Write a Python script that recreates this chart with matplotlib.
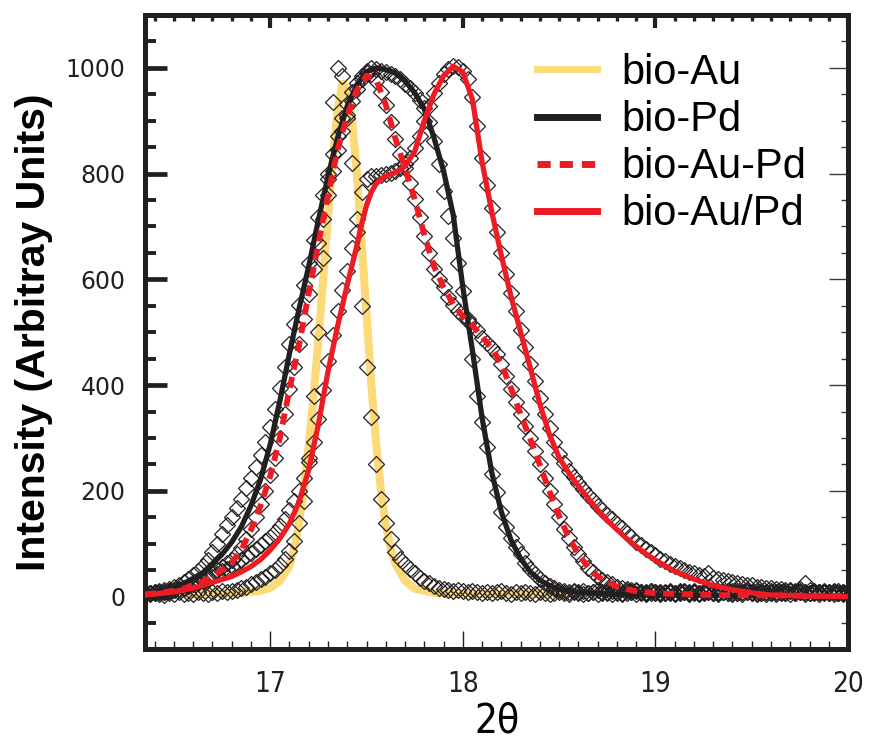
import numpy as np
import matplotlib
matplotlib.use("Agg")
import matplotlib.pyplot as plt
from matplotlib.ticker import MultipleLocator

INK = "#231F20"
GOLD = "#FDD978"
RED = "#ED1C24"

# measured diffraction scan: 16.35 .. 20.00 deg in 0.025 deg steps
two_theta = np.linspace(16.35, 20.0, 147)

au_counts = np.array([
    6, 4, 8, 5, 3, 7, 5, 9, 4, 6,
    5, 8, 6, 4, 9, 7, 10, 8, 11, 13,
    16, 19, 24, 28, 33, 38, 45, 51, 60, 72,
    86, 105, 140, 180, 262, 380, 500, 640, 790, 935,
    1000, 985, 905, 820, 690, 550, 435, 340, 250, 185,
    140, 108, 85, 72, 62, 52, 44, 36, 30, 25,
    20, 17, 14, 12, 11, 13, 10, 8, 11, 9,
    7, 9, 6, 8, 10, 7, 5, 8, 6, 9,
    7, 5, 8, 6, 4, 7, 9, 6, 5, 8,
    6, 4, 7, 9, 5, 6, 8, 5, 7, 4,
    6, 8, 5, 7, 4, 6, 9, 5, 7, 6,
    5, 7, 8, 4, 6, 5, 7, 9, 6, 5,
    8, 6, 4, 7, 5, 8, 6, 5, 7, 4,
    6, 5, 8, 7, 4, 6, 9, 5, 6, 7,
    5, 8, 6, 4, 7, 5, 6])

pd_counts = np.array([
    6, 7, 9, 10, 12, 15, 19, 22, 27, 33,
    40, 48, 58, 70, 85, 100, 118, 135, 150, 167,
    185, 205, 225, 246, 268, 292, 320, 355, 395, 435,
    478, 515, 552, 590, 630, 675, 718, 760, 800, 838,
    872, 905, 932, 955, 972, 985, 995, 1000, 998, 995,
    993, 988, 985, 978, 970, 962, 952, 940, 925, 897,
    862, 818, 768, 720, 678, 630, 578, 525, 450, 380,
    330, 282, 232, 198, 160, 132, 110, 94, 80, 64,
    52, 42, 33, 26, 20, 16, 13, 11, 9, 10,
    8, 11, 7, 9, 12, 8, 6, 10, 9, 7,
    10, 8, 12, 9, 7, 11, 8, 6, 9, 10,
    7, 9, 11, 8, 10, 6, 9, 12, 8, 7,
    9, 11, 7, 10, 8, 12, 9, 7, 10, 8,
    11, 8, 9, 7, 10, 9, 11, 8, 6, 9,
    8, 10, 7, 9, 11, 8, 10])

mix_counts = np.array([
    5, 6, 7, 8, 9, 11, 13, 15, 17, 20,
    23, 27, 32, 37, 43, 50, 56, 63, 70, 80,
    92, 108, 128, 150, 175, 200, 230, 262, 300, 345,
    392, 435, 478, 525, 572, 620, 668, 715, 760, 805,
    845, 880, 910, 938, 960, 978, 990, 988, 975, 955,
    930, 898, 866, 838, 810, 782, 752, 718, 682, 650,
    620, 600, 585, 567, 552, 540, 530, 522, 513, 505,
    490, 480, 470, 458, 440, 418, 393, 368, 345, 322,
    300, 275, 250, 225, 200, 175, 150, 128, 110, 94,
    80, 67, 55, 46, 38, 32, 27, 23, 19, 16,
    14, 12, 10, 9, 8, 10, 7, 9, 6, 8,
    7, 10, 8, 6, 9, 7, 11, 8, 6, 9,
    8, 6, 10, 7, 9, 8, 6, 10, 7, 9,
    7, 9, 6, 8, 10, 7, 9, 8, 6, 8,
    9, 7, 8, 10, 6, 8, 7])

alloy_counts = np.array([
    5, 6, 7, 8, 9, 11, 13, 15, 17, 20,
    23, 26, 30, 34, 38, 43, 48, 53, 58, 64,
    70, 76, 83, 90, 97, 105, 113, 122, 133, 147,
    163, 180, 200, 225, 255, 292, 335, 390, 445, 495,
    540, 580, 615, 660, 715, 765, 790, 795, 795, 797,
    799, 801, 804, 810, 818, 830, 848, 872, 900, 928,
    952, 972, 988, 998, 1003, 1002, 995, 978, 945, 890,
    830, 778, 735, 690, 650, 610, 575, 540, 505, 472,
    440, 408, 376, 345, 318, 292, 270, 252, 238, 226,
    215, 204, 193, 182, 172, 163, 154, 146, 138, 129,
    120, 112, 104, 97, 90, 84, 78, 72, 67, 62,
    58, 54, 50, 47, 44, 41, 39, 44, 35, 33,
    31, 29, 27, 25, 24, 22, 21, 19, 18, 17,
    16, 15, 14, 13, 12, 11, 14, 25, 12, 10,
    9, 9, 8, 8, 7, 7, 6])

# fitted profiles
au_fit_x = [16.35, 16.7, 16.85, 16.95, 17.0, 17.05, 17.1, 17.125, 17.15, 17.175,
            17.2, 17.225, 17.25, 17.275, 17.3, 17.325, 17.35, 17.375, 17.4, 17.425,
            17.45, 17.475, 17.5, 17.525, 17.55, 17.575, 17.6, 17.625, 17.65, 17.7,
            17.75, 17.85, 18.0, 18.6]
au_fit_y = [5, 5, 7, 11, 16, 30, 58, 92, 140, 205,
            285, 380, 485, 600, 720, 830, 920, 970, 962, 900,
            800, 665, 535, 400, 290, 200, 135, 92, 62, 30,
            15, 7, 5, 5]

pd_fit_x = [16.35, 16.45, 16.55, 16.65, 16.75, 16.8, 16.85, 16.9, 16.95, 17.0,
            17.05, 17.1, 17.15, 17.2, 17.25, 17.3, 17.35, 17.4, 17.45, 17.5,
            17.55, 17.6, 17.65, 17.7, 17.75, 17.8, 17.85, 17.9, 17.95, 18.0,
            18.05, 18.1, 18.15, 18.2, 18.25, 18.3, 18.35, 18.4, 18.45, 18.5,
            18.6, 18.8, 19.2, 20.0]
pd_fit_y = [5, 12, 24, 45, 80, 103, 132, 172, 222, 288,
            370, 460, 545, 625, 712, 795, 868, 928, 968, 993,
            1000, 997, 990, 975, 953, 922, 868, 805, 722, 585,
            465, 338, 235, 160, 107, 72, 47, 31, 21, 14,
            8, 4, 3, 2]

mix_fit_x = [16.35, 16.45, 16.55, 16.65, 16.75, 16.8, 16.85, 16.9, 16.95, 17.0,
             17.05, 17.1, 17.15, 17.2, 17.25, 17.3, 17.35, 17.4, 17.45, 17.5,
             17.55, 17.6, 17.65, 17.7, 17.75, 17.8, 17.85, 17.9, 17.95, 18.0,
             18.05, 18.1, 18.15, 18.2, 18.25, 18.3, 18.35, 18.4, 18.45, 18.5,
             18.55, 18.6, 18.65, 18.7, 18.8, 18.9, 19.0, 19.3, 20.0]
mix_fit_y = [4, 8, 15, 28, 50, 64, 88, 126, 172, 228,
             300, 392, 476, 574, 668, 760, 845, 910, 958, 985,
             978, 930, 866, 810, 752, 684, 625, 585, 553, 530,
             513, 491, 470, 440, 394, 345, 298, 249, 199, 152,
             112, 80, 56, 38, 19, 10, 6, 3, 1]

alloy_fit_x = [16.35, 16.4, 16.5, 16.6, 16.7, 16.8, 16.85, 16.9, 16.95, 17.0,
               17.05, 17.1, 17.15, 17.2, 17.25, 17.3, 17.35, 17.4, 17.45, 17.475,
               17.5, 17.525, 17.55, 17.575, 17.6, 17.65, 17.7, 17.75, 17.8, 17.85,
               17.9, 17.95, 18.0, 18.05, 18.1, 18.15, 18.2, 18.25, 18.3, 18.35,
               18.4, 18.45, 18.5, 18.55, 18.6, 18.65, 18.7, 18.75, 18.8, 18.85,
               18.9, 18.95, 19.0, 19.1, 19.2, 19.3, 19.4, 19.5, 19.6, 19.8,
               20.0]
alloy_fit_y = [3, 5, 9, 16, 27, 38, 47, 57, 70, 88,
               110, 138, 180, 240, 326, 426, 512, 590, 664, 705,
               740, 765, 781, 790, 795, 802, 814, 842, 900, 950,
               985, 1003, 992, 940, 822, 728, 645, 568, 500, 433,
               364, 306, 263, 234, 209, 186, 164, 144, 127, 110,
               95, 81, 69, 48, 33, 21, 13, 7, 3, 1,
               0]

labels = ["bio-Au", "bio-Pd", "bio-Au-Pd", "bio-Au/Pd"]

fig = plt.figure(figsize=(8.69, 7.42), dpi=100)
ax = fig.add_axes([0.1669, 0.1247, 0.8090, 0.8551])

ax.plot(au_fit_x, au_fit_y, color=GOLD, lw=5.8, zorder=1, label=labels[0])
for counts in (au_counts, pd_counts, mix_counts, alloy_counts):
    ax.plot(two_theta, counts, ls="none", marker="D", ms=8.5, mfc="none",
            mec=INK, mew=0.9, zorder=2)
ax.plot(pd_fit_x, pd_fit_y, color=INK, lw=3.8, zorder=3, label=labels[1])
ax.plot(mix_fit_x, mix_fit_y, color=RED, lw=4.2, dashes=(1.9, 1.3),
        zorder=3, label=labels[2])
ax.plot(alloy_fit_x, alloy_fit_y, color=RED, lw=3.8, zorder=4, label=labels[3])

ax.set_xlim(16.35, 20.0)
ax.set_ylim(-100, 1100)

for side in ax.spines.values():
    side.set_linewidth(3.6)
    side.set_color(INK)

ax.xaxis.set_major_locator(MultipleLocator(1))
ax.xaxis.set_minor_locator(MultipleLocator(0.1))
ax.yaxis.set_major_locator(MultipleLocator(200))
ax.yaxis.set_minor_locator(MultipleLocator(50))

ax.tick_params(axis="both", which="both", direction="in", colors=INK,
               top=False, right=False)
ax.tick_params(axis="x", which="major", length=13, width=1.0, pad=15,
               labelsize=20)
ax.tick_params(axis="x", which="minor", length=6, width=1.0)
ax.tick_params(axis="y", which="major", length=16, width=3.4, pad=14,
               labelsize=17)
ax.tick_params(axis="y", which="minor", length=8, width=2.8)
for lab in ax.get_xticklabels():
    lab.set_fontstretch("condensed")

# heavy ticks along the top, fine ticks along the right
top = ax.secondary_xaxis("top")
top.xaxis.set_major_locator(MultipleLocator(1))
top.xaxis.set_minor_locator(MultipleLocator(0.1))
top.tick_params(which="both", direction="in", labeltop=False, colors=INK)
top.tick_params(which="major", length=9, width=3.0)
top.tick_params(which="minor", length=4.5, width=2.4)
top.spines["top"].set_visible(False)

right = ax.secondary_yaxis("right")
right.yaxis.set_major_locator(MultipleLocator(200))
right.yaxis.set_minor_locator(MultipleLocator(50))
right.tick_params(which="both", direction="in", labelright=False,
                  colors="#3A3A3A", width=1.0)
right.tick_params(which="major", length=14)
right.tick_params(which="minor", length=5)
right.spines["right"].set_visible(False)

ax.set_xlabel("2θ", fontsize=29, fontstretch="condensed")
ax.xaxis.set_label_coords(0.5, -0.082)
ax.set_ylabel("Intensity (Arbitray Units)", family="Liberation Sans",
              fontsize=29.5, fontweight="bold")
ax.yaxis.set_label_coords(-0.131, 0.5)

leg = ax.legend(loc="upper left", bbox_to_anchor=(0.5576, 0.94),
                frameon=False, prop={"family": "Liberation Sans", "size": 30},
                handlelength=1.45, handletextpad=0.57, labelspacing=0.17,
                borderpad=0, borderaxespad=0)
for h in leg.legend_handles:
    h.set_linewidth(5)

fig.savefig("out.png", dpi=100)
